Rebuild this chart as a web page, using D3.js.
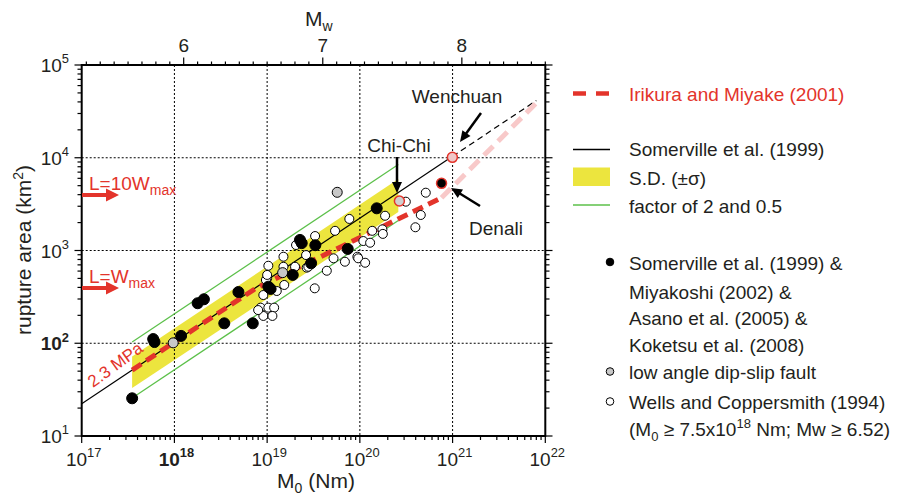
<!DOCTYPE html>
<html lang="en">
<head>
<meta charset="UTF-8">
<title>Rupture area vs seismic moment</title>
<script src="https://d3js.org/d3.v7.min.js"></script>
<style>
  body { margin: 0; background: #fff; }
  svg { display: block; }
  text { font-family: "Liberation Sans", Arial, Helvetica, sans-serif; fill: #231f20; }
  .red { fill: #e3342b; }
</style>
</head>
<body>
<script>
// ---- data (M0 in Nm, S in km^2) ----
const blackM0 = [3.5e17, 5.9e17, 6.1e17, 1.18e18, 1.78e18, 2.08e18, 3.45e18, 4.9e18, 7.0e18, 1.03e19,
                 1.09e19, 1.89e19, 2.26e19, 2.36e19, 2.98e19, 3.31e19, 7.4e19, 1.52e20];
const blackS  = [25.5, 111, 103, 120, 270, 298, 164, 357, 164, 407,
                 385, 545, 1300, 1200, 728, 1140, 1040, 2850];

const grayM0 = [9.7e17, 1.47e19, 5.7e19];
const grayS  = [101, 577, 4240];

const whiteM0 = [3.13e20, 5.14e20, 4.54e20, 3.97e20, 7.7e19, 5.4e19, 1.36e20, 1.75e20, 1.77e20, 1.09e20,
                 1.29e20, 9.4e19, 9.6e19, 1.14e20, 6.9e19, 5.2e19, 4.4e19, 3.26e19, 1.87e20, 3.29e19,
                 2.05e19, 2.63e19, 2.67e19, 2.78e19, 1.5e19, 1.53e19, 1.03e19, 1.0e19, 1.27e19, 9.1e18,
                 8.5e18, 1.03e19, 1.19e19, 9.1e18, 1.14e19, 1.5e19, 2.0e19, 9.7e18, 1.0e19, 8.0e18];
const whiteS  = [3360, 4200, 2415, 1780, 2190, 1630, 1630, 1690, 1510, 1265,
                 1213, 857, 824, 738, 757, 824, 605, 391, 2370, 1432,
                 1146, 893, 653, 668, 857, 425, 685, 501, 366, 331,
                 242, 242, 242, 197, 197, 668, 668, 481, 545, 228];

const namedEvents = ["Chi-Chi", "Wenchuan", "Denali"];
const namedM0 = [2.67e20, 9.95e20, 7.6e20];
const namedS  = [3420, 10100, 5300];

const somervilleM0 = [1e17, 1e21];
const somervilleS  = [22.3, 10350];
const somervilleExtM0 = [1e21, 8e21];
const somervilleExtS  = [10350, 41400];

const irikuraM0 = [3.5e17, 7.5e18, 7.6e20];
const irikuraS  = [51.4, 390, 3700];
const thirdM0 = [7.6e20, 8e21];
const thirdS  = [3700, 39000];

const bandM0 = [3.5e17, 2.6e20];
const bandHi = [72, 5900];
const bandLo = [33, 2600];
const factor2 = [103, 8440];
const factorHalf = [25.7, 2110];

const xDecades = [17, 18, 19, 20, 21, 22];
const yDecades = [1, 2, 3, 4, 5];
const mwLabels = [6, 7, 8];

// ---- layout ----
const W = 897, H = 498;
const svg = d3.select("body").append("svg").attr("width", W).attr("height", H);

const x = d3.scaleLog().domain([1e17, 1e22]).range([81.7, 545.3]);
const y = d3.scaleLog().domain([10, 1e5]).range([436, 65]);
const mw = d3.scaleLinear().domain([(17 - 9.1) / 1.5, (22 - 9.1) / 1.5]).range([81.7, 545.3]);

const red = "#e3342b", pink = "#f8c9c9", green = "#5cc04a", yellow = "#ece53e";
const pts = (a, b) => a.map((v, i) => [v, b[i]]);
const line = d3.line().x(d => x(d[0])).y(d => y(d[1]));

// band
svg.append("path")
  .attr("d", d3.area().x(d => x(d[0])).y0(d => y(d[2])).y1(d => y(d[1]))(bandM0.map((v, i) => [v, bandHi[i], bandLo[i]])))
  .attr("fill", yellow);

// grid
const g = svg.append("g").attr("stroke", "#000").attr("stroke-width", 1).attr("stroke-dasharray", "2,2");
xDecades.slice(1, -1).forEach(e => g.append("line")
  .attr("x1", x(10 ** e)).attr("x2", x(10 ** e)).attr("y1", y(1e5)).attr("y2", y(10)));
yDecades.slice(1, -1).forEach(e => g.append("line")
  .attr("x1", x(1e17)).attr("x2", x(1e22)).attr("y1", y(10 ** e)).attr("y2", y(10 ** e)));

// model lines
[factor2, factorHalf].forEach(s => svg.append("path").attr("d", line(pts(bandM0, s)))
  .attr("fill", "none").attr("stroke", green).attr("stroke-width", 1.3));
svg.append("path").attr("d", line(pts(somervilleM0, somervilleS)))
  .attr("fill", "none").attr("stroke", "#000").attr("stroke-width", 1.2);
svg.append("path").attr("d", line(pts(somervilleExtM0, somervilleExtS)))
  .attr("fill", "none").attr("stroke", "#000").attr("stroke-width", 1.2).attr("stroke-dasharray", "6,4");
svg.append("path").attr("d", line(pts(thirdM0, thirdS)))
  .attr("fill", "none").attr("stroke", pink).attr("stroke-width", 5).attr("stroke-dasharray", "13,7");
svg.append("path").attr("d", line(pts(irikuraM0, irikuraS)))
  .attr("fill", "none").attr("stroke", red).attr("stroke-width", 5).attr("stroke-dasharray", "11,6");

// points
const dots = (m, s, r, fill, stroke) => svg.append("g").selectAll("circle")
  .data(pts(m, s)).join("circle")
  .attr("cx", d => x(d[0])).attr("cy", d => y(d[1])).attr("r", r)
  .attr("fill", fill).attr("stroke", stroke).attr("stroke-width", 1);
dots(whiteM0, whiteS, 4.5, "#fff", "#000");
dots(grayM0, grayS, 5, "#c8c8c8", "#000");
dots(blackM0, blackS, 5.5, "#000", "#000");
const namedFill = ["#cfcfcf", "#f0c8c8", "#000"];
svg.append("g").selectAll("circle").data(namedM0).join("circle")
  .attr("cx", d => x(d)).attr("cy", (d, i) => y(namedS[i])).attr("r", 5)
  .attr("fill", (d, i) => namedFill[i]).attr("stroke", red).attr("stroke-width", 1.5);

// frame and ticks
svg.append("rect").attr("x", x(1e17)).attr("y", y(1e5))
  .attr("width", x(1e22) - x(1e17)).attr("height", y(10) - y(1e5))
  .attr("fill", "none").attr("stroke", "#000").attr("stroke-width", 2);

const minorX = [], minorY = [];
xDecades.slice(0, -1).forEach(e => d3.range(2, 10).forEach(k => minorX.push(k * 10 ** e)));
yDecades.slice(0, -1).forEach(e => d3.range(2, 10).forEach(k => minorY.push(k * 10 ** e)));
const t = svg.append("g").attr("stroke", "#000").attr("stroke-width", 1.2);
minorX.forEach(v => t.append("line").attr("x1", x(v)).attr("x2", x(v)).attr("y1", 436).attr("y2", 440));
xDecades.forEach(e => t.append("line").attr("x1", x(10 ** e)).attr("x2", x(10 ** e)).attr("y1", 436).attr("y2", 443));
minorY.forEach(v => {
  t.append("line").attr("x1", 81.7).attr("x2", 77.5).attr("y1", y(v)).attr("y2", y(v));
  t.append("line").attr("x1", 545.3).attr("x2", 549.5).attr("y1", y(v)).attr("y2", y(v));
});
yDecades.forEach(e => {
  t.append("line").attr("x1", 81.7).attr("x2", 74.5).attr("y1", y(10 ** e)).attr("y2", y(10 ** e));
  t.append("line").attr("x1", 545.3).attr("x2", 552.5).attr("y1", y(10 ** e)).attr("y2", y(10 ** e));
});
d3.range(53, 87).map(v => v / 10).forEach(v => {
  const major = Math.abs(v - Math.round(v)) < 1e-6;
  t.append("line").attr("x1", mw(v)).attr("x2", mw(v)).attr("y1", 65).attr("y2", major ? 57.5 : 61.5);
});

// tick labels
const sup = (sel, base, exp, fs, bold) => {
  sel.attr("font-size", fs).attr("font-weight", bold ? "bold" : null);
  sel.append("tspan").text(base);
  sel.append("tspan").attr("font-size", fs * 0.68).attr("dy", -fs * 0.45).text(exp);
};
xDecades.forEach(e => sup(svg.append("text").attr("x", x(10 ** e) + 2).attr("y", 466)
  .attr("text-anchor", "middle"), "10", e, 19, e === 18));
yDecades.forEach(e => sup(svg.append("text").attr("x", 69).attr("y", y(10 ** e) + 7)
  .attr("text-anchor", "end"), "10", e, 19, e === 2));
mwLabels.forEach(v => svg.append("text").attr("x", mw(v)).attr("y", 52)
  .attr("text-anchor", "middle").attr("font-size", 19).text(v));

// axis titles
const mwT = svg.append("text").attr("x", 305).attr("y", 26).attr("font-size", 21);
mwT.append("tspan").text("M");
mwT.append("tspan").attr("font-size", 14).attr("dy", 5).text("w");
const xT = svg.append("text").attr("x", 316).attr("y", 488).attr("text-anchor", "middle").attr("font-size", 21);
xT.append("tspan").text("M");
xT.append("tspan").attr("font-size", 14).attr("dy", 5).text("0");
xT.append("tspan").attr("dy", -5).text(" (Nm)");
const yT = svg.append("text").attr("transform", "translate(31,250) rotate(-90)")
  .attr("text-anchor", "middle").attr("font-size", 21);
yT.append("tspan").text("rupture area (km");
yT.append("tspan").attr("font-size", 14).attr("dy", -8).text("2");
yT.append("tspan").attr("dy", 8).text(")");

// annotations
const arrowHead = (x1, y1, x2, y2, len, half) => {
  const a = Math.atan2(y2 - y1, x2 - x1), c = Math.cos(a), s = Math.sin(a);
  const bx = x2 - len * c, by = y2 - len * s;
  return `M${x2},${y2}L${bx - half * s},${by + half * c}L${bx + half * s},${by - half * c}Z`;
};
const blackArrow = (x1, y1, x2, y2) => {
  const a = Math.atan2(y2 - y1, x2 - x1);
  svg.append("line").attr("x1", x1).attr("y1", y1)
    .attr("x2", x2 - 8 * Math.cos(a)).attr("y2", y2 - 8 * Math.sin(a))
    .attr("stroke", "#000").attr("stroke-width", 2.5);
  svg.append("path").attr("d", arrowHead(x1, y1, x2, y2, 11, 5)).attr("fill", "#000");
};
const label = (txt, px, py) => svg.append("text").attr("x", px).attr("y", py)
  .attr("text-anchor", "middle").attr("font-size", 19).text(txt);

label("Wenchuan", 457, 103);
blackArrow(481, 113, 460, 142);
label("Chi-Chi", 399, 152);
blackArrow(397, 157, 397, 193);
label("Denali", 496, 235);
blackArrow(480, 206, 451, 188);

const redArrow = (yy) => {
  svg.append("line").attr("x1", 82).attr("x2", 107).attr("y1", yy).attr("y2", yy)
    .attr("stroke", red).attr("stroke-width", 4);
  svg.append("path").attr("d", arrowHead(82, yy, 119, yy, 13, 6.5)).attr("fill", red);
};
[["10W", 189.5], ["W", 283]].forEach(([w, yy]) => {
  const tx = svg.append("text").attr("class", "red").attr("x", 89).attr("y", yy).attr("font-size", 19);
  tx.append("tspan").text("L=" + w);
  tx.append("tspan").attr("font-size", 14).attr("dy", 5).text("max");
});
redArrow(195);
redArrow(288);
svg.append("text").attr("class", "red").attr("font-size", 17)
  .attr("transform", "translate(93,388) rotate(-36)").text("2.3 MPa");

// legend
const LX = 573, TX = 629;
const lg = svg.append("g");
lg.append("line").attr("x1", LX).attr("x2", 610).attr("y1", 93.5).attr("y2", 93.5)
  .attr("stroke", red).attr("stroke-width", 4.5).attr("stroke-dasharray", "13,10");
lg.append("text").attr("class", "red").attr("x", TX).attr("y", 100.5).attr("font-size", 19)
  .text("Irikura and Miyake (2001)");
lg.append("line").attr("x1", LX).attr("x2", 610).attr("y1", 149.5).attr("y2", 149.5)
  .attr("stroke", "#000").attr("stroke-width", 1.3);
lg.append("rect").attr("x", LX).attr("y", 167.5).attr("width", 37).attr("height", 18.5).attr("fill", yellow);
lg.append("line").attr("x1", LX).attr("x2", 610).attr("y1", 205).attr("y2", 205)
  .attr("stroke", green).attr("stroke-width", 1.3);
[["Somerville et al. (1999)", 156], ["S.D. (\u00b1\u03c3)", 184.5], ["factor of 2 and 0.5", 212.5],
 ["Somerville et al. (1999) &", 270], ["Miyakoshi (2002) &", 298.5], ["Asano et al. (2005) &", 325],
 ["Koketsu et al. (2008)", 352], ["low angle dip-slip fault", 378.5], ["Wells and Coppersmith (1994)", 408.5]]
  .forEach(([s, yy]) => lg.append("text").attr("x", TX).attr("y", yy).attr("font-size", 19).text(s));
const last = lg.append("text").attr("x", TX).attr("y", 435.5).attr("font-size", 19);
last.append("tspan").text("(M");
last.append("tspan").attr("font-size", 13).attr("dy", 5).text("0");
last.append("tspan").attr("dy", -5).text(" \u2265 7.5x10");
last.append("tspan").attr("font-size", 13).attr("dy", -8).text("18");
last.append("tspan").attr("dy", 8).text(" Nm; Mw \u2265 6.52)");
[["#000", 262], ["#c8c8c8", 371.5], ["#fff", 401.5]].forEach(([f, yy]) =>
  lg.append("circle").attr("cx", 610).attr("cy", yy).attr("r", 3.8)
    .attr("fill", f).attr("stroke", "#000").attr("stroke-width", 1));
</script>
</body>
</html>
